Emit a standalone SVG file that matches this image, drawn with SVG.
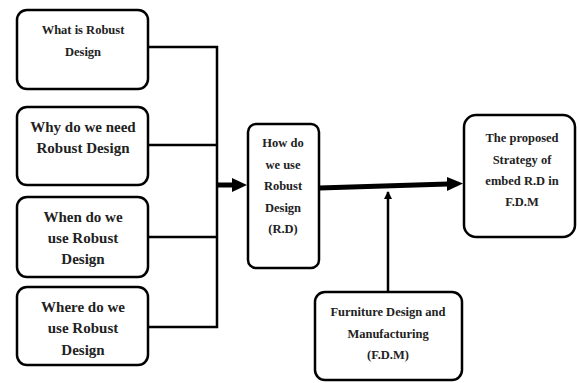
<svg xmlns="http://www.w3.org/2000/svg" width="577" height="383" viewBox="0 0 577 383">
<style>
.box{fill:#fff;stroke:#000;stroke-width:2.5}
text{font-family:"Liberation Serif","Times New Roman",serif;font-weight:bold;fill:#222;text-anchor:middle}
.s{font-size:12.5px}
.m{font-size:15px}
.c{fill:none;stroke:#000;stroke-width:2.5}
</style>
<defs>
<marker id="ah2" markerWidth="8" markerHeight="8" refX="7" refY="4" orient="auto" markerUnits="userSpaceOnUse"><path d="M0,0 L8,4 L0,8 z" fill="#000"/></marker>
</defs>
<rect width="577" height="383" fill="#fff"/>
<g id="connectors">
<path class="c" d="M148,47 H217 V327 H148 M148,145 H217 M148,237 H217"/>
<path d="M217,185 H233" stroke="#000" stroke-width="5" fill="none"/>
<polygon points="232,178 247,185 232,192" fill="#000"/>
<path d="M319,188 L448,184" stroke="#000" stroke-width="5" fill="none"/>
<polygon points="447,177 463,183.5 447,191" fill="#000"/>
<path class="c" d="M388,292 V192" marker-end="url(#ah2)"/>
</g>
<g id="n1"><rect class="box" x="17" y="10" width="131" height="79" rx="10"/>
<text class="s" x="83" y="34">What is Robust</text><text class="s" x="83" y="56">Design</text></g>
<g id="n2"><rect class="box" x="17" y="107" width="131" height="78" rx="10"/>
<text class="m" x="83" y="132">Why do we need</text><text class="m" x="83" y="153">Robust Design</text></g>
<g id="n3"><rect class="box" x="17" y="197" width="131" height="80" rx="10"/>
<text class="m" x="83" y="222">When do we</text><text class="m" x="83" y="243">use Robust</text><text class="m" x="83" y="264">Design</text></g>
<g id="n4"><rect class="box" x="17" y="287" width="131" height="78" rx="10"/>
<text class="m" x="83" y="312">Where do we</text><text class="m" x="83" y="333">use Robust</text><text class="m" x="83" y="355">Design</text></g>
<g id="n5"><rect class="box" x="248" y="124" width="71" height="144" rx="8"/>
<text class="s" x="283" y="147">How do</text><text class="s" x="283" y="169">we use</text><text class="s" x="283" y="190">Robust</text><text class="s" x="283" y="212">Design</text><text class="s" x="283" y="233">(R.D)</text></g>
<g id="n6"><rect class="box" x="464" y="115" width="111" height="122" rx="12"/>
<text class="s" x="522" y="142">The proposed</text><text class="s" x="522" y="164">Strategy of</text><text class="s" x="522" y="185">embed R.D in</text><text class="s" x="522" y="206">F.D.M</text></g>
<g id="n7"><rect class="box" x="315" y="292" width="147" height="88" rx="10"/>
<text class="s" x="388" y="316">Furniture Design and</text><text class="s" x="388" y="338">Manufacturing</text><text class="s" x="388" y="359">(F.D.M)</text></g>
</svg>
